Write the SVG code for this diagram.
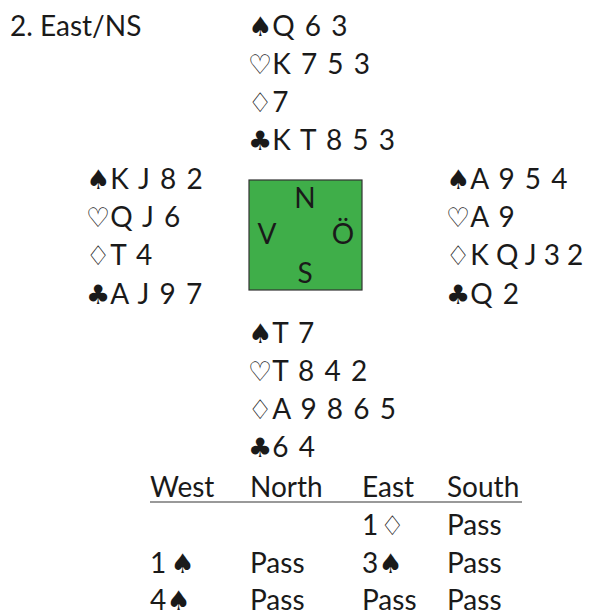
<svg xmlns="http://www.w3.org/2000/svg" width="590" height="611" viewBox="0 0 590 611">
<style>
text{font-family:"Lato","DejaVu Sans",sans-serif;font-size:28px;fill:#1a1a1a}
.h{word-spacing:3px}
.s{font-family:"DejaVu Sans",sans-serif;font-size:27px}
.box{fill:#3fae49;stroke:#333;stroke-width:1.2}
</style>
<rect width="590" height="611" fill="#fff"/>
<text x="10" y="36">2. East/NS</text>
<g id="north" class="h">
<text x="248" y="36"><tspan class="s">♠</tspan>Q 6 3</text>
<text x="248" y="74"><tspan class="s">♡</tspan>K 7 5 3</text>
<text x="248" y="112"><tspan class="s">♢</tspan>7</text>
<text x="248" y="150"><tspan class="s">♣</tspan>K T 8 5 3</text>
</g>
<g id="west" class="h">
<text x="86" y="189"><tspan class="s">♠</tspan>K J 8 2</text>
<text x="86" y="227"><tspan class="s">♡</tspan>Q J 6</text>
<text x="86" y="265"><tspan class="s">♢</tspan>T 4</text>
<text x="86" y="304"><tspan class="s">♣</tspan>A J 9 7</text>
</g>
<g id="east" class="h">
<text x="446" y="189"><tspan class="s">♠</tspan>A 9 5 4</text>
<text x="446" y="227"><tspan class="s">♡</tspan>A 9</text>
<text x="446" y="265" style="word-spacing:0"><tspan class="s">♢</tspan>K Q J 3 2</text>
<text x="446" y="304"><tspan class="s">♣</tspan>Q 2</text>
</g>
<g id="compass">
<rect class="box" x="249" y="180" width="113" height="110"/>
<text x="305" y="208" text-anchor="middle">N</text>
<text x="267" y="244" text-anchor="middle">V</text>
<text x="343" y="244" text-anchor="middle">Ö</text>
<text x="305" y="283" text-anchor="middle">S</text>
</g>
<g id="south" class="h">
<text x="248" y="343"><tspan class="s">♠</tspan>T 7</text>
<text x="248" y="381"><tspan class="s">♡</tspan>T 8 4 2</text>
<text x="248" y="419"><tspan class="s">♢</tspan>A 9 8 6 5</text>
<text x="248" y="457"><tspan class="s">♣</tspan>6 4</text>
</g>
<g id="bidding">
<text x="150" y="497">West</text>
<text x="250" y="497">North</text>
<text x="362" y="497">East</text>
<text x="447" y="497">South</text>
<line x1="150" y1="502" x2="522" y2="502" stroke="#777" stroke-width="1.5"/>
<text x="362" y="535">1<tspan class="s" dx="2">♢</tspan></text>
<text x="447" y="535">Pass</text>
<text x="150" y="573">1<tspan class="s" dx="4">♠</tspan></text>
<text x="250" y="573">Pass</text>
<text x="362" y="573">3<tspan class="s">♠</tspan></text>
<text x="447" y="573">Pass</text>
<text x="150" y="610">4<tspan class="s">♠</tspan></text>
<text x="250" y="610">Pass</text>
<text x="362" y="610">Pass</text>
<text x="447" y="610">Pass</text>
</g>
</svg>
